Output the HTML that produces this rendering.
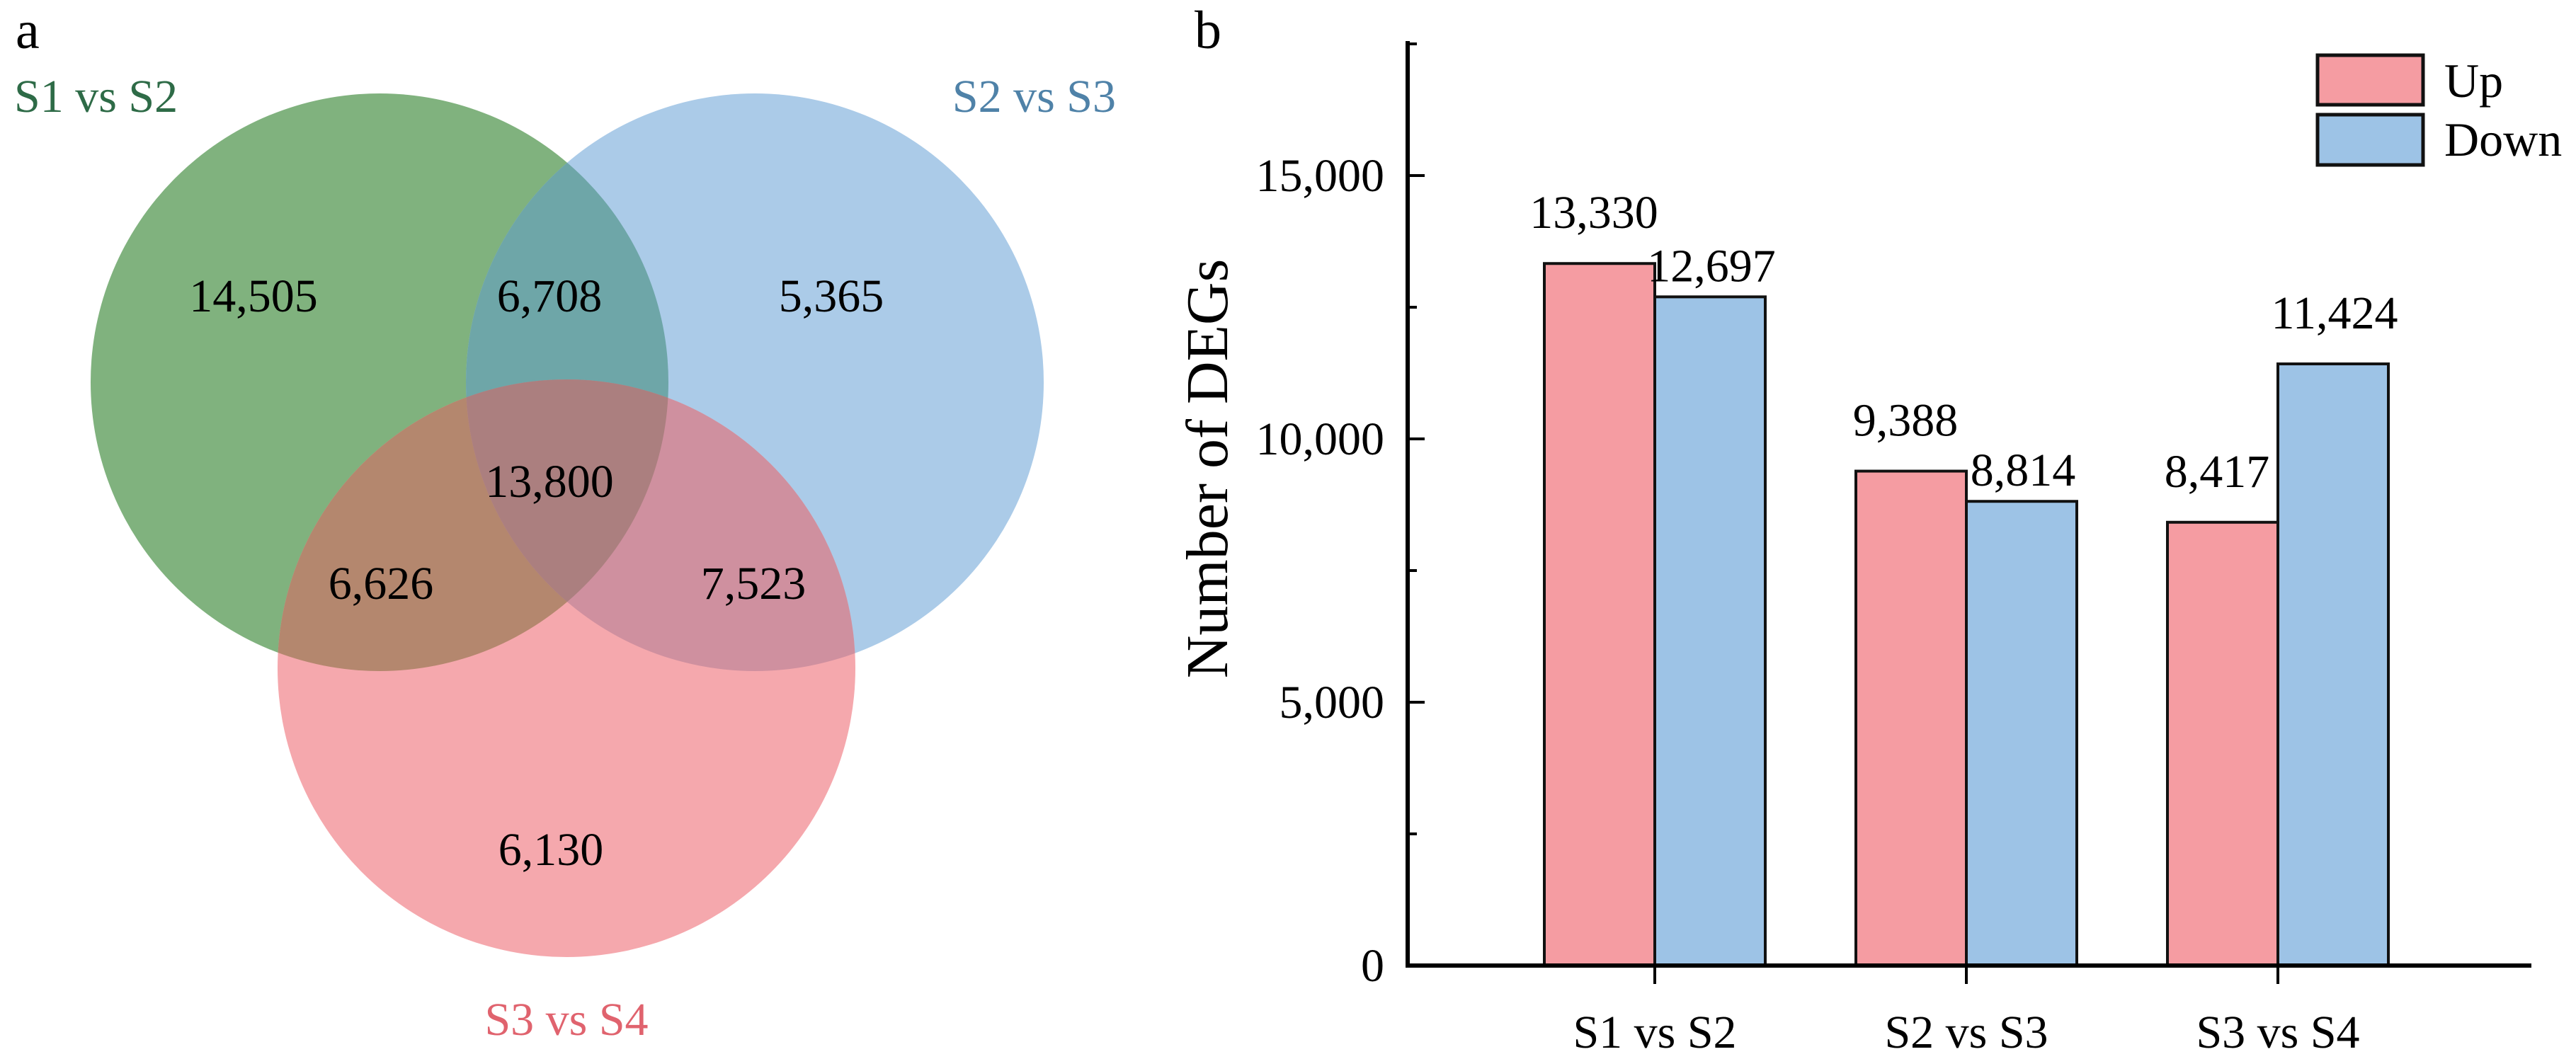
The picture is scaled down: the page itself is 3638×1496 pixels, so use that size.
<!DOCTYPE html>
<html><head><meta charset="utf-8">
<style>
html,body{margin:0;padding:0;background:#fff;}
svg{display:block;font-family:"Liberation Serif",serif;}
</style></head>
<body>
<svg id="fig" width="3638" height="1496" viewBox="0 0 3638 1496" xmlns="http://www.w3.org/2000/svg">
<defs>
  <clipPath id="cg"><circle cx="536" cy="540" r="408"/></clipPath>
  <clipPath id="cb"><circle cx="1066" cy="540" r="408"/></clipPath>
  <clipPath id="cp"><circle cx="800" cy="944" r="408"/></clipPath>
</defs>
<g id="venn">
  <text x="22" y="68" font-size="76" fill="#000">a</text>
  <circle cx="536" cy="540" r="408" fill="#80b27e"/>
  <circle cx="1066" cy="540" r="408" fill="#abcbe8"/>
  <circle cx="800" cy="944" r="408" fill="#f5a8ad"/>
  <g clip-path="url(#cg)"><circle cx="1066" cy="540" r="408" fill="#6ea6a8"/></g>
  <g clip-path="url(#cg)"><circle cx="800" cy="944" r="408" fill="#b4876e"/></g>
  <g clip-path="url(#cb)"><circle cx="800" cy="944" r="408" fill="#cf909f"/></g>
  <g clip-path="url(#cg)"><g clip-path="url(#cb)"><circle cx="800" cy="944" r="408" fill="#ab7f7f"/></g></g>
  <text x="20" y="158" font-size="66" fill="#2e6b47">S1 vs S2</text>
  <text x="1576" y="158" font-size="66" fill="#4f82a8" text-anchor="end">S2 vs S3</text>
  <text x="800" y="1462" font-size="66" fill="#e0636e" text-anchor="middle">S3 vs S4</text>
  <g font-size="66" fill="#000" text-anchor="middle">
    <text x="358" y="440">14,505</text>
    <text x="776" y="440">6,708</text>
    <text x="1174" y="440">5,365</text>
    <text x="776" y="702">13,800</text>
    <text x="538" y="846">6,626</text>
    <text x="1064" y="846">7,523</text>
    <text x="778" y="1222">6,130</text>
  </g>
</g>
<g id="bars"></g>
</svg>
<script>
const categories = ["S1 vs S2", "S2 vs S3", "S3 vs S4"];
const upValues = [13330, 9388, 8417];
const downValues = [12697, 8814, 11424];
const upLabels = ["13,330", "9,388", "8,417"];
const downLabels = ["12,697", "8,814", "11,424"];
const yTicks = [0, 5000, 10000, 15000];
const yTickLabels = ["0", "5,000", "10,000", "15,000"];
const yMinorTicks = [2500, 7500, 12500, 17500];

const NS = "http://www.w3.org/2000/svg";
const g = document.getElementById("bars");
const X0 = 1988, XEND = 3575, Y0 = 1364, YTOP = 58;
const pxPerUnit = 372 / 5000;
function yS(v){ return Y0 - v * pxPerUnit; }
const catX0 = 2337, catStep = 440, barW = 156;
function xS(i){ return catX0 + i * catStep; }
function mk(tag, attrs){ const e = document.createElementNS(NS, tag); for (const k in attrs) e.setAttribute(k, attrs[k]); g.appendChild(e); return e; }

let t = mk("text", {x:1687, y:68, "font-size":76, fill:"#000"}); t.textContent = "b";



categories.forEach((c, i) => {
  const cx = xS(i);
  let r = mk("rect", {x:cx - barW, y:yS(upValues[i]), width:barW, height:Y0 - yS(upValues[i]), fill:"#f59ca2", stroke:"#111", "stroke-width":4});
  
  
  r = mk("rect", {x:cx, y:yS(downValues[i]), width:barW, height:Y0 - yS(downValues[i]), fill:"#9dc3e6", stroke:"#111", "stroke-width":4});
  
  
  let l = mk("text", {x:cx - barW/2 - 8, y:yS(upValues[i]) - 50, "font-size":66, "text-anchor":"middle", fill:"#000"});
  l.textContent = upLabels[i];
  
  
  l = mk("text", {x:cx + barW/2 + 2, y:yS(downValues[i]) - 22, "font-size":66, "text-anchor":"middle", fill:"#000"});
  if (downValues[i] > upValues[i]) l.setAttribute("y", yS(downValues[i]) - 50);
  l.textContent = downLabels[i];
  
  
  let tk = mk("line", {x1:cx, x2:cx, y1:Y0, y2:Y0 + 26, stroke:"#000", "stroke-width":4});
  
  
  let cl = mk("text", {x:cx, y:1480, "font-size":66, "text-anchor":"middle", fill:"#000"});
  cl.textContent = c;
  
  
});

yTicks.forEach((v, i) => {
  const y = yS(v);
  if (v > 0) {
    let tk = mk("line", {x1:X0, x2:X0 + 24, y1:y, y2:y, stroke:"#000", "stroke-width":4});
    
    
  }
  let lb = mk("text", {x:1955, y:y + 22, "font-size":66, "text-anchor":"end", fill:"#000"});
  lb.textContent = yTickLabels[i];
  
  
});
yMinorTicks.forEach(v => {
  const y = yS(v);
  let tk = mk("line", {x1:X0, x2:X0 + 13, y1:y, y2:y, stroke:"#000", "stroke-width":4});
  
  
});

let ax = mk("line", {x1:X0, x2:X0, y1:YTOP, y2:Y0 + 3, stroke:"#000", "stroke-width":6});


ax = mk("line", {x1:X0 - 3, x2:XEND, y1:Y0, y2:Y0, stroke:"#000", "stroke-width":6});



let yt = mk("text", {x:0, y:0, "font-size":84, "text-anchor":"middle", fill:"#000", transform:"translate(1733,662) rotate(-90)"});
yt.textContent = "Number of DEGs";



let lg = mk("rect", {x:3273, y:78, width:149, height:70, fill:"#f59ca2", stroke:"#111", "stroke-width":5});


lg = mk("rect", {x:3273, y:162, width:149, height:71, fill:"#9dc3e6", stroke:"#111", "stroke-width":5});


let lt = mk("text", {x:3452, y:137, "font-size":68, fill:"#000"}); lt.textContent = "Up";


lt = mk("text", {x:3452, y:220, "font-size":68, fill:"#000"}); lt.textContent = "Down";


</script>
</body></html>
